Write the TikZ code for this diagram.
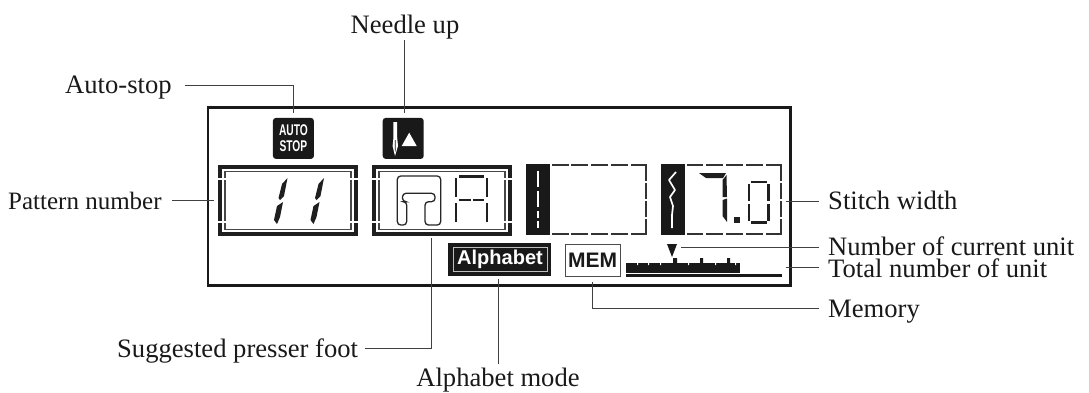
\documentclass[tikz,border=0pt]{standalone}
\usepackage{fontspec}
\setmainfont{Liberation Serif}
\setsansfont{Liberation Sans}
\tikzset{
  x=1pt,y=-1pt,
  lbl/.style={inner sep=0pt,font=\fontsize{26.6}{28}\selectfont,text=black!90},
  leader/.style={draw=black!75,line width=1pt},
  panel/.style={draw=black!90,line width=2.5pt,line join=miter},
  seg/.style={fill=black!88,draw=none},
  thinseg/.style={draw=black!88,line width=2.2pt},
  dashseg/.style={draw=black!80,line width=1.5pt},
  band/.style={fill=black!90,draw=none},
  icon/.style={fill=black!90,draw=none,rounded corners=3pt,minimum width=41pt,minimum height=41pt,inner sep=0pt},
}
\newcommand{\lcdframe}[2]{%
  \draw[black!88,line width=3.6pt] (#1+1.8,#2+1.8) rectangle (#1+138.2,#2+69.2);
  \draw[black!72,line width=1.8pt] (#1+7,#2+6.5) rectangle (#1+133,#2+64.5);
  \draw[white,line width=2pt] (#1-1,#2+14) -- (#1+9,#2+14) (#1-1,#2+57) -- (#1+9,#2+57)
     (#1+131,#2+14) -- (#1+141,#2+14) (#1+131,#2+57) -- (#1+141,#2+57);
}
\begin{document}
\begin{tikzpicture}
\useasboundingbox (0,0) rectangle (1089,392);
% panel
\draw[panel] (208,107.7) rectangle (790.7,285.5);
% labels
\node[lbl,anchor=base] (needle) at (405,33.5) {Needle up};
\node[lbl,anchor=base west] (autostop) at (65,93.5) {Auto-stop};
\node[lbl,anchor=base west,font=\fontsize{25}{28}\selectfont] (pattern) at (8,209) {Pattern number};
\node[lbl,anchor=base west] (width) at (828,209.5) {Stitch width};
\node[lbl,anchor=base west] (current) at (828,255) {Number of current unit};
\node[lbl,anchor=base west] (total) at (828,277) {Total number of unit};
\node[lbl,anchor=base west] (memory) at (828,317) {Memory};
\node[lbl,anchor=base west] (foot) at (117,357) {Suggested presser foot};
\node[lbl,anchor=base] (alpha) at (498,386) {Alphabet mode};
% icons
\node[icon,anchor=north west,text=white,font=\sffamily\fontsize{15.5}{16.5}\selectfont\bfseries,align=center] (autoicon) at (272.7,117.7) {\scalebox{.66}[1]{AUTO}\\\scalebox{.66}[1]{STOP}};
\node[icon,anchor=north west] (needleicon) at (382.5,117.7) {};
\fill[white] (393.4,122) -- (397.2,122) -- (397.2,138) -- (398,146) -- (395,156) -- (392.6,146) -- (393.4,138) -- cycle;
\fill[black!90] (394.9,140) -- (395.7,140) -- (395.7,149) -- (395.3,152) -- (394.9,149) -- cycle;
\fill[white] (409.2,132.7) -- (401.7,146) -- (416.7,146) -- cycle;
% frames
\lcdframe{218}{165}
\lcdframe{372}{165}
% 11
\fill[seg] (287.5,178) -- (282,184) -- (278.5,198) -- (280,200) -- (284,196) -- cycle;
\fill[seg] (283,202) -- (277,206) -- (274,220) -- (277,224) -- (280,217) -- cycle;
\fill[seg] (324,178) -- (318.5,184) -- (315,198) -- (316.5,200) -- (320.5,196) -- cycle;
\fill[seg] (319.5,202) -- (313.5,206) -- (310.5,220) -- (313.5,224) -- (316.5,217) -- cycle;
% foot
\draw[black!85,line width=1.3pt,rounded corners=3.5pt] (406.7,225) -- (397.3,225) -- (397.3,176) -- (440.7,176) -- (440.7,225) -- (425,225) -- (425,201.7) -- (435,201.7) -- (435,193.3) -- (402.5,193.3) -- (402.5,201.7) -- (406.7,201.7) -- cycle;
% A
\draw[thinseg] (456,178) -- (456,197) (456,203) -- (456,222) (487,178) -- (487,197) (487,203) -- (487,222) (459,176.5) -- (484,176.5) (459,200) -- (470.5,200) (472.5,200) -- (484,200);
% bars
\fill[band] (526,164) rectangle (550,235);
\fill[band] (661,164) rectangle (685,235);
\draw[white,line width=2pt] (538,170.5) -- (538,187) (538,191) -- (538,207) (538,211) -- (538,218) (538,221) -- (538,228);
\draw[white,line width=1.7pt,line join=round] (676,172) -- (669,180) -- (675,190) -- (670,197) -- (673,206) -- (672,215) -- (672,228);
% dashed frames
\draw[dashseg] (552,165) -- (569,165) (571,165) -- (588,165) (591,165) -- (608,165) (611,165) -- (628,165) (631,165) -- (646,165) -- (646,181)
 (646,183) -- (646,199) (646,201) -- (646,217) (646,219) -- (646,234) -- (631,234) (628,234) -- (611,234) (608,234) -- (591,234) (588,234) -- (571,234) (569,234) -- (552,234);
\draw[dashseg] (687,165) -- (703,165) (706,165) -- (723,165) (726,165) -- (743,165) (746,165) -- (763,165) (766,165) -- (781,165) -- (781,181)
 (781,183) -- (781,199) (781,201) -- (781,217) (781,219) -- (781,234) -- (766,234) (763,234) -- (746,234) (743,234) -- (726,234) (723,234) -- (706,234) (703,234) -- (687,234);
% 7.0
\fill[seg] (699,173) -- (726,173) -- (723,178) -- (706,178) -- cycle;
\fill[seg] (722.5,180) -- (726.5,175) -- (727,197) -- (722.5,197) -- cycle;
\fill[seg] (722.5,200) -- (727,198.5) -- (727,222) -- (722.5,216) -- cycle;
\fill[seg] (734,217) rectangle (740,223);
\draw[thinseg] (749,184) -- (749,201) (749,204) -- (749,221) (768.5,184) -- (768.5,201) (768.5,204) -- (768.5,221) (751,182) -- (766.5,182) (751,222.5) -- (766.5,222.5);
% alphabet
\node[fill=black!90,draw=none,minimum width=103pt,minimum height=33pt,inner sep=0pt,anchor=north west] (alphabox) at (448,243) {};
\draw[white!75!black,line width=1pt] (453,247.5) rectangle (547,271.5);
\node[text=white,font=\sffamily\bfseries\fontsize{20}{22}\selectfont,inner sep=0pt] (alphatext) at (500,259) {Alphabet};
% mem
\node[draw=black!70,line width=1.3pt,fill=white,minimum width=55pt,minimum height=32pt,inner sep=0pt,anchor=north west,text=black!90,font=\sffamily\bfseries\fontsize{21}{22}\selectfont] (mem) at (564.5,243.5) {MEM};
% triangle
\fill[black!90] (667,244) -- (677,244) -- (672,257) -- cycle;
\coordinate (tri) at (681,247.5);
% units
\fill[band] (626,274) rectangle (782,277);
\fill[band] (626,263) rectangle (740,272.7);
\fill[band] (673,258) rectangle (677,263) (700,258) rectangle (703,263) (727,258) rectangle (730,263);
\fill[white] (637,263) rectangle (638.2,265) (648,263) rectangle (649.2,265) (660,263) rectangle (661.2,265) (688,263) rectangle (689.2,265) (715,263) rectangle (716.2,265) (735,263) rectangle (736.2,265);
% leaders
\coordinate (a0) at (185,85.5);
\coordinate (a2) at (293,85.5);
\coordinate (a1) at (293,113);
\coordinate (n0) at (404.5,40);
\coordinate (n1) at (404.5,113);
\coordinate (p0) at (172,200.7);
\coordinate (p1) at (214,200.7);
\coordinate (w1) at (786,201.7);
\coordinate (w0) at (819,201.7);
\coordinate (c0) at (819,247.5);
\coordinate (t1) at (786,267.7);
\coordinate (t0) at (819,267.7);
\coordinate (m1) at (592,282);
\coordinate (m2) at (592,308);
\coordinate (m0) at (819,308);
\coordinate (al1) at (498,279);
\coordinate (al0) at (498,364);
\coordinate (f1) at (431.5,238);
\coordinate (f2) at (431.5,348);
\coordinate (f0) at (365,348);
\draw[leader] (a0) -- (a2) -- (a1);
\draw[leader] (n0) -- (n1);
\draw[leader] (p0) -- (p1);
\draw[leader] (w1) -- (w0);
\draw[leader] (tri) -- (c0);
\draw[leader] (t1) -- (t0);
\draw[leader] (m1) -- (m2) -- (m0);
\draw[leader] (al1) -- (al0);
\draw[leader] (f1) -- (f2) -- (f0);
\end{tikzpicture}
\end{document}
